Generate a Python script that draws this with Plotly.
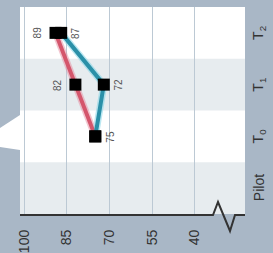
import plotly.graph_objects as go

categories = ["Pilot", "T<sub>0</sub>", "T<sub>1</sub>", "T<sub>2</sub>"]
red_cats = ["T<sub>2</sub>", "T<sub>1</sub>", "T<sub>0</sub>"]
red_vals = [89, 82, 75]
red_labels = ["89", "82", ""]
blue_cats = ["T<sub>2</sub>", "T<sub>1</sub>", "T<sub>0</sub>"]
blue_vals = [87, 72, 75]
blue_labels = ["87", "72", "75"]
value_ticks = [100, 85, 70, 55, 40]

W, H = 273, 253
L, R, T, B = 20, 28, 7, 39
PW, PH = W - L - R, H - T - B


def px(x):
    return (x - L) / PW


def py(y):
    return (H - B - y) / PH


fig = go.Figure()

# soft halo under lines
fig.add_trace(go.Scatter(x=red_vals, y=red_cats, mode="lines",
                         line=dict(color="rgba(230,140,160,0.5)", width=7), showlegend=False,
                         hoverinfo="skip"))
fig.add_trace(go.Scatter(x=blue_vals, y=blue_cats, mode="lines",
                         line=dict(color="rgba(120,210,230,0.5)", width=7), showlegend=False,
                         hoverinfo="skip"))
fig.add_trace(go.Scatter(x=red_vals, y=red_cats, mode="lines",
                         line=dict(color="#d4566c", width=4), showlegend=False))
fig.add_trace(go.Scatter(x=blue_vals, y=blue_cats, mode="lines",
                         line=dict(color="#2b90a8", width=4), showlegend=False))
fig.add_trace(go.Scatter(x=red_vals, y=red_cats, mode="markers",
                         marker=dict(symbol="square", size=12, color="black"),
                         showlegend=False))
fig.add_trace(go.Scatter(x=blue_vals, y=blue_cats, mode="markers",
                         marker=dict(symbol="square", size=12, color="black"),
                         showlegend=False))

annotations = []
for v, c, t in zip(red_vals, red_cats, red_labels):
    if t:
        annotations.append(dict(x=v, y=c, text=t, showarrow=False, textangle=-90,
                                xshift=-18, font=dict(size=10, color="#555")))
for v, c, t in zip(blue_vals, blue_cats, blue_labels):
    if t:
        annotations.append(dict(x=v, y=c, text=t, showarrow=False, textangle=-90,
                                xshift=15, font=dict(size=10, color="#555")))
for c in categories:
    annotations.append(dict(x=1, xref="paper", y=c, yref="y", text=c,
                            showarrow=False, textangle=-90, xanchor="center",
                            xshift=14, font=dict(size=14, color="#333")))

shapes = []
for i in (0, 2):
    shapes.append(dict(type="rect", xref="paper", yref="y", x0=0, x1=1,
                       y0=i - 0.5, y1=i + 0.5, fillcolor="#e7ecef",
                       line=dict(width=0), layer="below"))
# axis line with break
shapes.append(dict(type="path", xref="paper", yref="paper",
                   path=f"M {px(20)},{py(215)} L {px(213)},{py(215)} L {px(218)},{py(202)} "
                        f"L {px(230)},{py(231)} L {px(235)},{py(215)} L {px(245)},{py(215)}",
                   line=dict(color="#333", width=2)))
# white blob on the left
shapes.append(dict(type="path", xref="paper", yref="paper",
                   path=f"M {px(0)},{py(128)} L {px(20)},{py(115)} L {px(20)},{py(150)} L {px(0)},{py(147)} Z",
                   fillcolor="white", line=dict(width=0)))

fig.update_layout(
    width=W, height=H,
    margin=dict(l=L, r=R, t=T, b=B, pad=0, autoexpand=False),
    paper_bgcolor="#a9b7c6",
    plot_bgcolor="white",
    font=dict(family="Liberation Sans, Arial, sans-serif", color="#333"),
    shapes=shapes,
    annotations=annotations,
    xaxis=dict(range=[101.5, 22.3], tickvals=value_ticks,
               ticktext=[str(v) for v in value_ticks], tickangle=-90,
               showgrid=True, gridcolor="#bcc9d4", gridwidth=1,
               zeroline=False, showline=False, ticks="", automargin=False,
               ticklabelstandoff=12,
               tickfont=dict(size=14, color="#333")),
    yaxis=dict(categoryorder="array", categoryarray=categories,
               range=[-0.5, 3.5], showticklabels=False, automargin=False,
               showgrid=False, zeroline=False, showline=False, ticks=""),
)

fig.write_html("out.html", config={"displayModeBar": False},
               post_script="document.body.style.margin='0';document.body.style.overflow='hidden';")
